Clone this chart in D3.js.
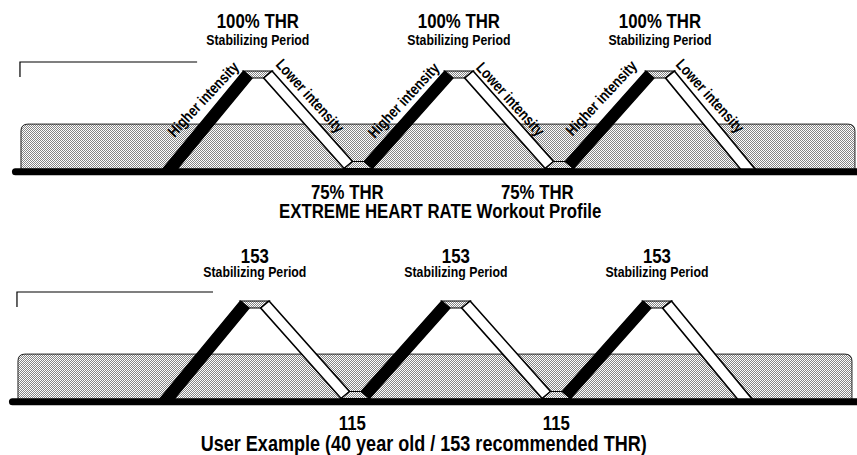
<!DOCTYPE html>
<html>
  <head>
    <script src="https://d3js.org/d3.v7.min.js"></script>
    <style>
      body { margin: 0; background: #fff; }
      text { font-family: "Liberation Sans", Arial, sans-serif; font-weight: bold; fill: #000; }
    </style>
  </head>
  <body>
    <svg id="chart" width="857" height="455"></svg>

    <script>
      // workout profile: time in minutes, level in % of target heart rate
      const profileMin = [8, 12, 13, 17, 18, 22, 23, 27, 28, 32, 33, 37];
      const profileLvl = [73, 100, 100, 75, 75, 100, 100, 75, 75, 100, 100, 73];

      // shaded zone and the little bracket at the top left
      const zoneMin = [0.72, 42.2];
      const zoneTop = 86.3;
      const bracketLvl = [103.45, 99.3];
      const bracketMinTop = [0.67, 9.48];
      const bracketMinBottom = [0.67, 10.42];
      const baseMin = [0.27, 43];

      // labels
      const peakLabelMin = [12.5, 22.5, 32.5];
      const topPeakLabels = ["100% THR", "100% THR", "100% THR"];
      const bottomPeakLabels = ["153", "153", "153"];
      const subLabel = "Stabilizing Period";
      const topValleyMin = [16.95, 26.4];
      const bottomValleyMin = [17.35, 27.5];
      const topValleyLabels = ["75% THR", "75% THR"];
      const bottomValleyLabels = ["115", "115"];
      const higherMin = [9.78, 19.75, 29.58];
      const higherLvl = [93.2, 92.9, 93.5];
      const lowerMin = [15.1, 25.07, 35.0];
      const lowerLvl = [94.1, 93.2, 94.1];
      const topTitle = "EXTREME HEART RATE Workout Profile";
      const bottomTitle = "User Example (40 year old / 153 recommended THR)";
      const topTitleMin = 21.57;
      const bottomTitleMin = 20.9;

      var svg = d3.select("#chart");

      var x = d3.scaleLinear().domain([0, 42.5]).range([6.5, 861]);
      var y = d3.scaleLinear().domain([75, 100]).range([165, 74.5]);

      // dithered grey fill
      var pat = svg.append("defs").append("pattern")
        .attr("id", "dots")
        .attr("patternUnits", "userSpaceOnUse")
        .attr("width", 2).attr("height", 2);
      pat.append("rect").attr("width", 2).attr("height", 2).attr("fill", "#fff");
      pat.append("rect").attr("x", 0).attr("y", 0).attr("width", 1).attr("height", 1).attr("fill", "#858585");
      pat.append("rect").attr("x", 1).attr("y", 1).attr("width", 1).attr("height", 1).attr("fill", "#858585");

      var hw = 7.3;  // half width of the sloped bands (horizontal)
      var hv = 3.5;  // half thickness of the flat caps
      var narrow = 0.82; // squeeze to look like a narrow face

      function meet(p1, d1, p2, d2) {
        var c = d1[0] * d2[1] - d1[1] * d2[0];
        var t = ((p2[0] - p1[0]) * d2[1] - (p2[1] - p1[1]) * d2[0]) / c;
        return [p1[0] + t * d1[0], p1[1] + t * d1[1]];
      }

      // build the mitred band polygons from the centre line
      var pts = profileMin.map(function(m, i) { return [x(m), y(profileLvl[i])]; });
      var segs = [];
      for (var i = 0; i < pts.length - 1; i++) {
        var a = pts[i], b = pts[i + 1];
        var d = [b[0] - a[0], b[1] - a[1]];
        var up, lo, kind;
        if (d[1] === 0) { up = [0, -hv]; lo = [0, hv]; kind = "cap"; }
        else {
          var s = d[1] < 0 ? -hw : hw;
          up = [s, 0]; lo = [-s, 0];
          kind = d[1] < 0 ? "higher" : "lower";
        }
        segs.push({a: a, b: b, d: d, kind: kind,
          up: [a[0] + up[0], a[1] + up[1]], lo: [a[0] + lo[0], a[1] + lo[1]]});
      }
      segs.forEach(function(sg, i) {
        var us, ls, ue, le;
        if (i === 0) { us = meet(sg.up, sg.d, sg.a, [1, 0]); ls = meet(sg.lo, sg.d, sg.a, [1, 0]); }
        else { var p = segs[i - 1]; us = meet(sg.up, sg.d, p.up, p.d); ls = meet(sg.lo, sg.d, p.lo, p.d); }
        if (i === segs.length - 1) { ue = meet(sg.up, sg.d, sg.b, [1, 0]); le = meet(sg.lo, sg.d, sg.b, [1, 0]); }
        else { var n = segs[i + 1]; ue = meet(sg.up, sg.d, n.up, n.d); le = meet(sg.lo, sg.d, n.lo, n.d); }
        sg.poly = [us, ue, le, ls];
      });

      function drawPanel(g, bracketMin) {
        // shaded zone with rounded top corners
        var x0 = x(zoneMin[0]), x1 = x(zoneMin[1]), yt = y(zoneTop), yb = y(73), r = 7;
        g.append("path")
          .attr("d", "M" + x0 + "," + yb + "V" + (yt + r) + "Q" + x0 + "," + yt + " " + (x0 + r) + "," + yt +
                "H" + (x1 - r) + "Q" + x1 + "," + yt + " " + x1 + "," + (yt + r) + "V" + yb)
          .attr("fill", "url(#dots)")
          .attr("stroke", "#222")
          .attr("stroke-width", 1);

        // bracket
        g.append("path")
          .attr("d", d3.line()([[x(bracketMin[0]), y(bracketLvl[1])], [x(bracketMin[0]), y(bracketLvl[0])], [x(bracketMin[1]), y(bracketLvl[0])]]))
          .attr("fill", "none")
          .attr("stroke", "#000")
          .attr("stroke-width", 1.2);

        g.selectAll(".band")
          .data(segs)
          .enter()
          .append("path")
          .attr("class", "band")
          .attr("d", function(sg) { return d3.line()(sg.poly) + "Z"; })
          .attr("fill", function(sg) { return sg.kind === "higher" ? "#000" : sg.kind === "lower" ? "#fff" : "url(#dots)"; })
          .attr("stroke", "#000")
          .attr("stroke-width", function(sg) { return sg.kind === "lower" ? 1.6 : 1.2; })
          .attr("stroke-linejoin", "miter");

        // ground line
        g.append("rect")
          .attr("x", x(baseMin[0]))
          .attr("y", y(73) - 4)
          .attr("width", x(baseMin[1]) - x(baseMin[0]))
          .attr("height", 7)
          .attr("rx", 3.5)
          .attr("fill", "#000");
      }

      // centred text, squeezed horizontally
      function labels(g, cls, data, px, py, size, rot, weight) {
        g.selectAll("." + cls)
          .data(data)
          .enter()
          .append("text")
          .attr("class", cls)
          .attr("transform", function(d, i) {
            return "translate(" + px(d, i) + "," + py(d, i) + ") rotate(" + rot + ") scale(" + narrow + ",1)";
          })
          .attr("text-anchor", "middle")
          .attr("dy", rot ? "0.35em" : null)
          .style("font-size", size + "px")
          .style("font-weight", weight || "bold")
          .text(function(d) { return d; });
      }

      var topG = svg.append("g");
      drawPanel(topG, bracketMinTop);
      var botG = svg.append("g").attr("transform", "translate(-3,230)");
      drawPanel(botG, bracketMinBottom);

      var atPeak = function(d, i) { return x(peakLabelMin[i]); };

      // top panel
      labels(topG, "pk", topPeakLabels, atPeak, function() { return 28; }, 20.5, 0);
      labels(topG, "st", topPeakLabels.map(function() { return subLabel; }), atPeak, function() { return 45; }, 15, 0);
      labels(topG, "vl", topValleyLabels, function(d, i) { return x(topValleyMin[i]); }, function() { return 199; }, 20.5, 0);
      labels(topG, "hi", higherMin.map(function() { return "Higher intensity"; }),
        function(d, i) { return x(higherMin[i]); }, function(d, i) { return y(higherLvl[i]); }, 15.5, -47);
      labels(topG, "lo", lowerMin.map(function() { return "Lower intensity"; }),
        function(d, i) { return x(lowerMin[i]); }, function(d, i) { return y(lowerLvl[i]); }, 15.5, 48);
      labels(topG, "tt", [topTitle], function() { return x(topTitleMin); }, function() { return 218; }, 20.5, 0);

      // bottom panel
      labels(botG, "pk", bottomPeakLabels, atPeak, function() { return 33; }, 20.5, 0);
      labels(botG, "st", bottomPeakLabels.map(function() { return subLabel; }), atPeak, function() { return 47; }, 15, 0);
      labels(botG, "vl", bottomValleyLabels, function(d, i) { return x(bottomValleyMin[i]); }, function() { return 200; }, 20.5, 0);
      labels(botG, "tt", [bottomTitle], function() { return x(bottomTitleMin); }, function() { return 221; }, 22, 0);
    </script>
  </body>
</html>
